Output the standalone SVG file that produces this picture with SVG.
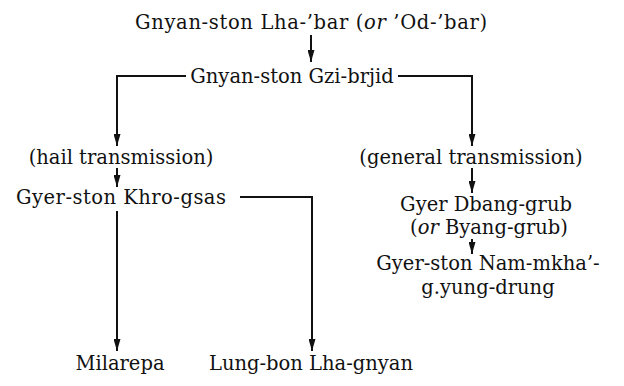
<svg xmlns="http://www.w3.org/2000/svg" width="624" height="386" viewBox="0 0 624 386">
<style>
text{font-family:"DejaVu Serif","Liberation Serif",serif;font-size:19.5px;fill:#111;text-anchor:middle}
.c line,.c polyline{stroke:#111;stroke-width:2;fill:none}
</style>
<defs>
<marker id="ah" markerWidth="12" markerHeight="7" refX="12" refY="3.5" orient="auto" markerUnits="userSpaceOnUse" viewBox="0 0 12 7">
<path d="M0,0 L12,3.5 L0,7 Z" fill="#111"/>
</marker>
</defs>
<g class="c">
<line x1="311" y1="35" x2="311" y2="62" marker-end="url(#ah)"/>
<polyline points="186,76 117,76 117,146" marker-end="url(#ah)"/>
<polyline points="398,76 472,76 472,146" marker-end="url(#ah)"/>
<line x1="117" y1="168" x2="117" y2="187" marker-end="url(#ah)"/>
<line x1="472" y1="168" x2="472" y2="193" marker-end="url(#ah)"/>
<line x1="472" y1="239" x2="472" y2="254" marker-end="url(#ah)"/>
<line x1="117" y1="211" x2="117" y2="351" marker-end="url(#ah)"/>
<polyline points="240,197 312,197 312,351" marker-end="url(#ah)"/>
</g>
<g id="n1"><text x="311" y="29" textLength="352" lengthAdjust="spacing">Gnyan-ston Lha-’bar (<tspan font-style="italic">or</tspan> ’Od-’bar)</text></g>
<g id="n2"><text x="292" y="83">Gnyan-ston Gzi-brjid</text></g>
<g id="n3"><text x="121" y="164">(hail transmission)</text></g>
<g id="n4"><text x="471" y="164">(general transmission)</text></g>
<g id="n5"><text x="121" y="204" textLength="210" lengthAdjust="spacing">Gyer-ston Khro-gsas</text></g>
<g id="n6"><text x="486" y="211">Gyer Dbang-grub</text><text x="489" y="234">(<tspan font-style="italic">or</tspan> Byang-grub)</text></g>
<g id="n7"><text x="488" y="270">Gyer-ston Nam-mkha’-</text><text x="488" y="294">g.yung-drung</text></g>
<g id="n8"><text x="120" y="370">Milarepa</text></g>
<g id="n9"><text x="311" y="370">Lung-bon Lha-gnyan</text></g>
</svg>
